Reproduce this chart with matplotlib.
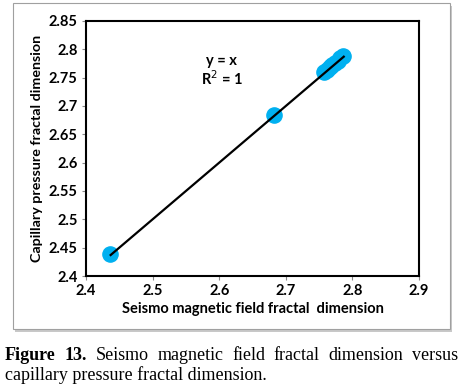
import matplotlib.pyplot as plt
from matplotlib.patches import Rectangle

# Data
seismo_fd = [2.436, 2.683, 2.758, 2.762, 2.766, 2.770, 2.774, 2.778, 2.782, 2.786]
capillary_fd = [2.438, 2.685, 2.760, 2.764, 2.768, 2.772, 2.776, 2.780, 2.784, 2.788]
fit_x = [2.437, 2.787]
x_ticks = [2.4, 2.5, 2.6, 2.7, 2.8, 2.9]
y_ticks = [2.4, 2.45, 2.5, 2.55, 2.6, 2.65, 2.7, 2.75, 2.8, 2.85]

plt.rcParams['font.family'] = ['Lato', 'DejaVu Sans']

fig = plt.figure(figsize=(4.62, 3.90), dpi=100)

# outer frame with a soft shadow
W, H = 462, 390
fig.patches.append(Rectangle((15 / W, 1 - 332 / H), 437 / W, 326 / H,
                             transform=fig.transFigure, facecolor='#c8c8c8',
                             edgecolor='none', zorder=0))
fig.patches.append(Rectangle((13 / W, 1 - 329 / H), 437 / W, 326 / H,
                             transform=fig.transFigure, facecolor='white',
                             edgecolor='#a0a0a0', linewidth=0.8, zorder=1))

ax = fig.add_axes([86 / W, 1 - 276 / H, 333 / W, 255 / H])
ax.set_zorder(2)

ax.scatter(seismo_fd, capillary_fd, s=120, color='#00b0f0', zorder=2)
ax.plot(fit_x, fit_x, color='black', linewidth=1.6, zorder=3)

ax.text(2.604, 2.779, 'y = x', ha='center', va='center', fontsize=10.5,
        fontweight='bold')
ax.text(2.604, 2.748, 'R$^2$ = 1', ha='center', va='center', fontsize=10.5,
        fontweight='bold')

ax.set_xlim(2.4, 2.9)
ax.set_ylim(2.4, 2.85)
ax.set_xticks(x_ticks)
ax.set_yticks(y_ticks)
ax.set_xticklabels([f'{v:g}' for v in x_ticks], fontweight='bold', fontsize=10.5)
ax.set_yticklabels([f'{v:g}' for v in y_ticks], fontweight='bold', fontsize=10.5)
ax.tick_params(axis='both', length=3, width=0.8, color='#888888', pad=3)
for sp in ax.spines.values():
    sp.set_linewidth(1.5)

ax.set_xlabel('Seismo magnetic field fractal  dimension', fontweight='bold',
              fontsize=10.5, labelpad=3)
ax.set_ylabel('Capillary pressure fractal dimension', fontweight='bold',
              fontsize=10.3, labelpad=4)

# caption, first line justified between x=5 and x=458 px
words = [('Figure', 'bold'), ('13.', 'bold'), ('Seismo', 'normal'),
         ('magnetic', 'normal'), ('field', 'normal'), ('fractal', 'normal'),
         ('dimension', 'normal'), ('versus', 'normal')]
renderer = fig.canvas.get_renderer()
items = []
for w, wt in words:
    t = fig.text(0, 1 - 355 / H, w, family='Liberation Serif', fontweight=wt,
                 fontsize=13, va='center', ha='left')
    items.append((t, t.get_window_extent(renderer).width))
total = sum(wd for _, wd in items)
gap = (453 - total) / (len(items) - 1)
x = 5.0
for t, wd in items:
    t.set_x(x / W)
    x += wd + gap

fig.text(5 / W, 1 - 375 / H, 'capillary pressure fractal dimension.',
         family='Liberation Serif', fontsize=13, va='center', ha='left')

fig.savefig('out.png', dpi=100)
